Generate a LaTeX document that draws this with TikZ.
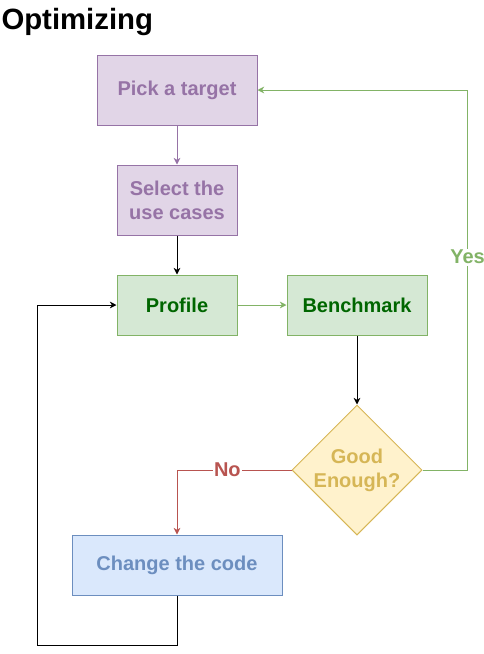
\documentclass[tikz,border=0pt]{standalone}
\usepackage{fontspec}
\setmainfont{Liberation Sans}
\usetikzlibrary{arrows.meta, shapes.geometric}

\definecolor{pickfill}{HTML}{E1D5E7}
\definecolor{pickline}{HTML}{9673A6}
\definecolor{runfill}{HTML}{D5E8D4}
\definecolor{runline}{HTML}{82B366}
\definecolor{runtext}{HTML}{006600}
\definecolor{askfill}{HTML}{FFF2CC}
\definecolor{askline}{HTML}{D6B656}
\definecolor{fixfill}{HTML}{DAE8FC}
\definecolor{fixline}{HTML}{6C8EBF}
\definecolor{noline}{HTML}{B85450}

\begin{document}
\begin{tikzpicture}[
    x=0.75pt, y=-0.75pt,
    line width=0.75pt,
    >={Stealth[length=5pt, width=5pt, inset=1.5pt]},
    box/.style={draw, rectangle, inner sep=0, align=center,
      font=\fontsize{15}{18}\selectfont\bfseries},
    pickbox/.style={box, fill=pickfill, draw=pickline, text=pickline},
    runbox/.style={box, fill=runfill, draw=runline, text=runtext,
      minimum height=45pt},
    askbox/.style={box, diamond, fill=askfill, draw=askline, text=askline,
      minimum width=97.5pt, minimum height=97.5pt},
    fixbox/.style={box, fill=fixfill, draw=fixline, text=fixline,
      minimum width=157.5pt, minimum height=45pt},
    tag/.style={fill=white, inner sep=1pt, font=\fontsize{15}{18}\selectfont\bfseries},
  ]
  \useasboundingbox (0,0) rectangle (483,654);

  \node [anchor=base west, inner sep=0, font=\fontsize{22}{26}\selectfont\bfseries]
    (title) at (1,29) {Optimizing};

  \node [pickbox, minimum width=120pt, minimum height=52.5pt] (target) at (177,90) {Pick a target};
  \node [pickbox, minimum width=90pt, minimum height=52.5pt] (cases) at (177,200) {Select the\\use cases};
  \node [runbox, minimum width=90pt] (profile) at (177,305) {Profile};
  \node [runbox, minimum width=105pt] (bench) at (357,305) {Benchmark};
  \node [askbox] (good) at (357,470) {Good\\Enough?};
  \node [fixbox] (change) at (177,565) {Change the code};

  % Connect the steps
  \draw [->, pickline] (target) -- (cases);
  \draw [->] (cases) -- (profile);
  \draw [->, runline] (profile) -- (bench);
  \draw [->] (bench) -- (good);

  % Answer of the check
  \draw [->, runline] (good.east) -- ++(45,0)
    |- node [tag, text=runline, pos=0.28] {Yes} (target.east);
  \draw [->, noline] (good.west)
    -| node [tag, text=noline, pos=0.28] {No} (change.north);

  % Back to the profiler
  \draw [->] (change.south) -- ++(0,50) -- ++(-140,0) |- (profile.west);
\end{tikzpicture}
\end{document}
